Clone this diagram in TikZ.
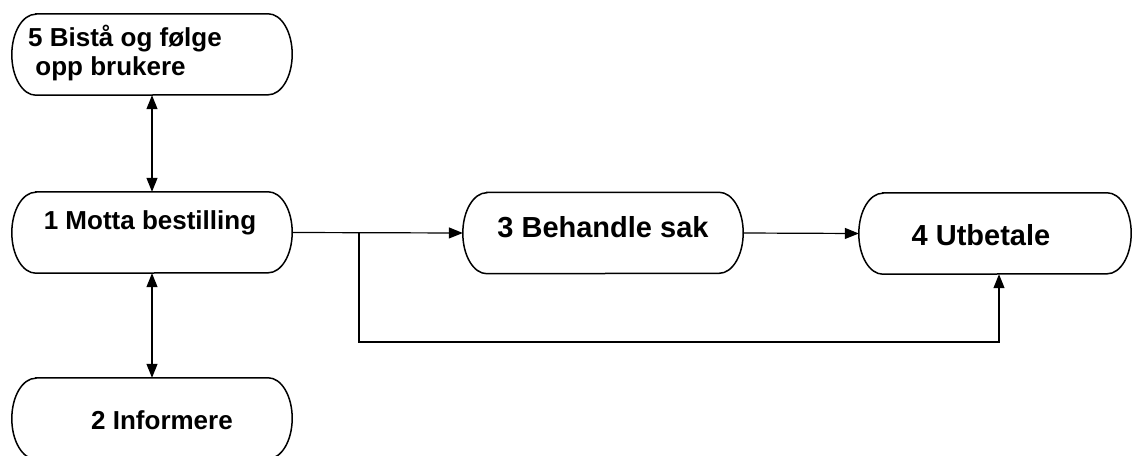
\documentclass[tikz,border=0pt]{standalone}
\usepackage{fontspec}
\setmainfont{Liberation Sans}
\usetikzlibrary{arrows.meta}

\begin{document}
\begin{tikzpicture}[x=1pt, y=-1pt,
    box/.style={minimum width=280pt, minimum height=81pt, inner sep=0pt},
    lbl/.style={font=\bfseries\fontsize{26}{29}\selectfont, inner sep=0pt},
    biglbl/.style={font=\bfseries\fontsize{29}{32}\selectfont, inner sep=0pt},
    link/.style={line width=1.2pt, -{Triangle[length=14pt, width=11pt]}},
    twoway/.style={line width=1.2pt, {Triangle[length=14pt, width=11pt]}-{Triangle[length=14pt, width=11pt]}}]
    \useasboundingbox (0, 0) rectangle (1132, 455);

    \node[box] (bista) at (152, 54.5) {};
    \node[box] (motta) at (152, 232.5) {};
    \node[box] (info) at (152, 418.5) {};
    \node[box] (behandle) at (603, 233) {};
    \node[box, minimum width=272pt] (utbetale) at (995, 233.5) {};

    % pill outlines
    \foreach \b in {bista, motta, info, behandle, utbetale}
        \draw[line width=1.5pt] ([xshift=24pt]\b.north west) -- ([xshift=-24pt]\b.north east)
            arc[start angle=90, end angle=-90, x radius=24pt, y radius=40.5pt]
            -- ([xshift=24pt]\b.south west)
            arc[start angle=270, end angle=90, x radius=24pt, y radius=40.5pt] -- cycle;

    \node[lbl, align=left, anchor=west] (bistatext) at (28, 53) {5 Bistå og følge\\ \ opp brukere};
    \node[lbl] (mottatext) at (150, 223) {1 Motta bestilling};
    \node[lbl] (infotext) at (162, 420) {2 Informere};
    \node[biglbl] (behandletext) at (603, 227) {3 Behandle sak};
    \node[biglbl] (utbetaletext) at (981, 235) {4 Utbetale};

    \coordinate (split) at (359, 233);
    \coordinate (low) at (359, 342);

    \draw[twoway] (bista.south) -- (motta.north);
    \draw[twoway] (motta.south) -- (info.north);
    \draw[link] (motta.east) -- (behandle.west);
    \draw[link] (behandle.east) -- (utbetale.west);
    \draw[link] (split) -- (low) -| ([xshift=4pt]utbetale.south);
\end{tikzpicture}
\end{document}
